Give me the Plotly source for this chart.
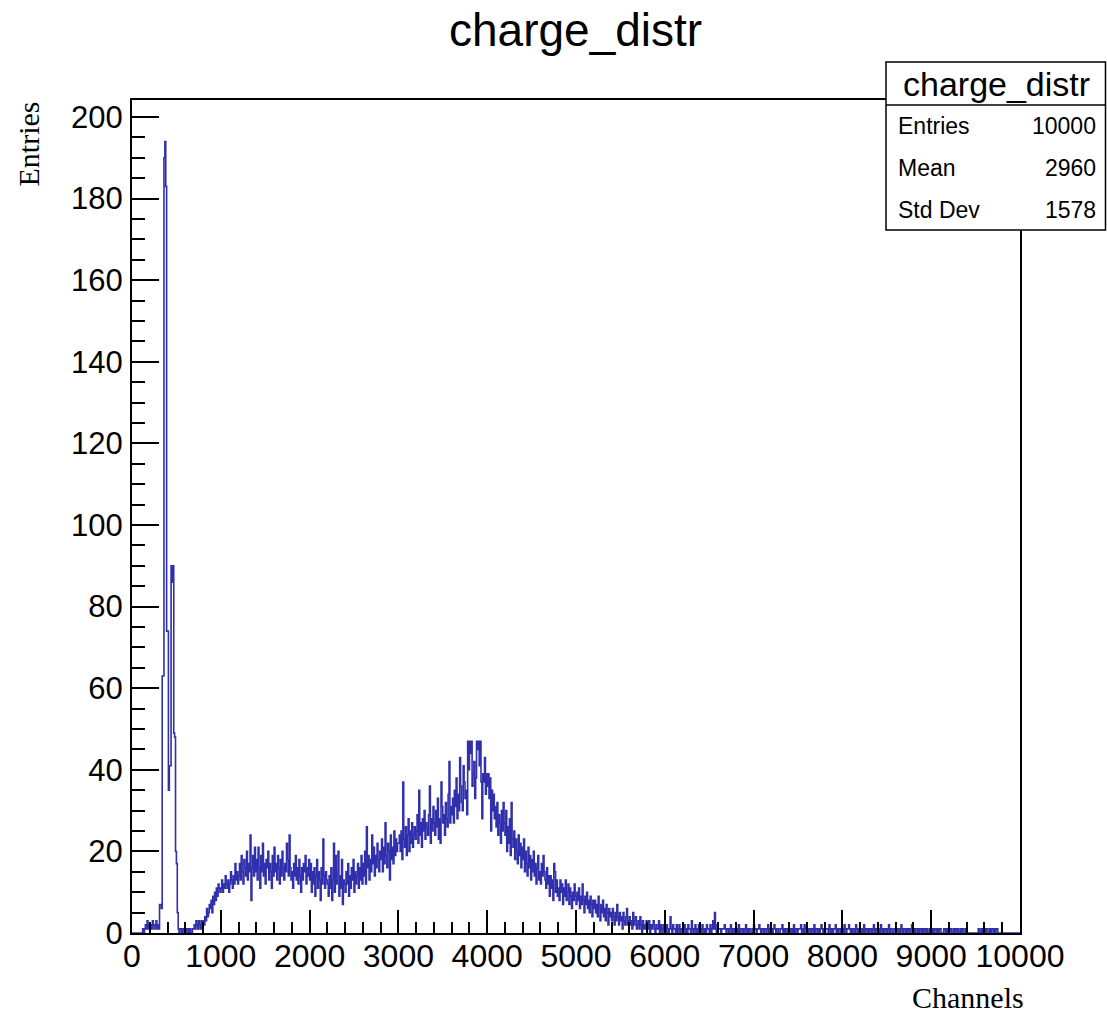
import numpy as np
import plotly.graph_objects as go

# Histogram definition: 1000 bins of 10 channels over [0, 10000)
bin_lo = 0
bin_width = 10

# Bin contents, 20 bins (200 channels) per row
counts = [
    0, 0, 0, 0, 0, 0, 0, 0, 0, 0, 0, 0, 1, 0, 1, 2, 1, 3, 1, 2,
    1, 2, 1, 3, 2, 1, 2, 3, 1, 2, 1, 7, 7, 6, 63, 63, 190, 194, 183, 74,
    74, 35, 41, 41, 90, 86, 90, 49, 48, 20, 17, 5, 1, 0, 1, 1, 0, 1, 1, 0,
    1, 0, 1, 1, 0, 1, 0, 0, 1, 1, 2, 1, 3, 2, 1, 3, 2, 1, 3, 2,
    3, 2, 4, 3, 6, 4, 5, 7, 6, 8, 5, 9, 7, 10, 8, 11, 9, 12, 11, 10,
    11, 13, 10, 12, 11, 14, 12, 11, 13, 10, 12, 15, 13, 11, 14, 12, 17, 13, 15, 12,
    14, 17, 13, 19, 15, 12, 18, 16, 14, 20, 13, 17, 15, 24, 8, 16, 19, 14, 21, 15,
    18, 13, 21, 16, 11, 19, 15, 22, 14, 17, 12, 18, 16, 20, 13, 17, 15, 11, 19, 14,
    21, 15, 17, 13, 19, 16, 12, 18, 14, 20, 16, 13, 17, 15, 22, 18, 14, 24, 16, 13,
    15, 11, 17, 14, 19, 13, 16, 12, 18, 14, 10, 16, 13, 17, 15, 19, 12, 16, 14, 18,
    13, 17, 10, 15, 12, 16, 9, 14, 18, 11, 15, 13, 8, 16, 12, 23, 14, 11, 15, 13,
    12, 9, 14, 11, 16, 8, 13, 22, 10, 19, 12, 15, 20, 9, 14, 11, 18, 7, 13, 12,
    10, 15, 12, 17, 9, 14, 11, 16, 13, 18, 10, 15, 12, 14, 17, 11, 16, 13, 19, 12,
    17, 14, 20, 12, 26, 16, 19, 13, 18, 15, 24, 17, 21, 14, 19, 16, 22, 18, 15, 20,
    18, 23, 15, 21, 17, 27, 19, 16, 22, 20, 13, 24, 18, 21, 17, 25, 19, 23, 20, 22,
    22, 24, 20, 25, 18, 37, 23, 21, 26, 19, 24, 28, 20, 25, 22, 27, 21, 24, 26, 23,
    25, 29, 22, 35, 24, 27, 21, 28, 25, 30, 23, 27, 26, 24, 29, 36, 22, 28, 25, 31,
    27, 24, 30, 26, 33, 23, 28, 22, 37, 31, 27, 29, 24, 32, 28, 26, 34, 42, 27, 31,
    29, 33, 27, 35, 31, 38, 28, 34, 30, 43, 36, 32, 30, 41, 37, 33, 35, 29, 47, 40,
    47, 44, 47, 36, 39, 42, 33, 38, 47, 45, 47, 41, 47, 37, 28, 39, 37, 43, 34, 39,
    36, 39, 33, 38, 25, 35, 30, 34, 28, 31, 26, 32, 24, 29, 27, 22, 30, 25, 32, 27,
    24, 30, 20, 26, 22, 28, 19, 32, 23, 21, 25, 18, 23, 20, 17, 24, 19, 22, 16, 21,
    18, 23, 15, 20, 17, 14, 21, 16, 19, 13, 18, 15, 20, 14, 17, 12, 16, 19, 13, 15,
    12, 17, 14, 19, 15, 13, 11, 16, 12, 14, 9, 14, 11, 13, 8, 17, 15, 10, 13, 9,
    11, 8, 13, 10, 12, 7, 11, 9, 13, 8, 10, 12, 7, 11, 9, 6, 10, 8, 12, 9,
    7, 10, 8, 11, 6, 9, 7, 12, 8, 5, 9, 7, 10, 6, 8, 5, 9, 7, 4, 8,
    6, 8, 5, 7, 4, 9, 6, 3, 7, 5, 8, 4, 6, 3, 7, 5, 2, 6, 4, 5,
    3, 6, 4, 2, 5, 3, 7, 4, 2, 5, 3, 4, 1, 5, 3, 2, 4, 6, 2, 3,
    4, 2, 3, 1, 5, 2, 3, 4, 1, 2, 3, 1, 4, 2, 0, 3, 1, 2, 1, 3,
    2, 1, 3, 0, 2, 1, 2, 3, 1, 0, 2, 1, 1, 3, 0, 2, 1, 0, 2, 1,
    1, 0, 2, 1, 0, 1, 4, 1, 0, 2, 1, 1, 0, 2, 0, 1, 2, 0, 1, 1,
    0, 1, 2, 0, 1, 0, 2, 1, 1, 0, 3, 1, 0, 1, 2, 0, 1, 0, 2, 1,
    1, 0, 2, 1, 0, 1, 0, 2, 1, 1, 0, 2, 0, 1, 3, 1, 5, 1, 0, 2,
    1, 1, 1, 0, 1, 1, 1, 2, 1, 0, 1, 1, 0, 1, 2, 0, 1, 1, 0, 1,
    0, 1, 0, 2, 0, 1, 1, 0, 1, 0, 1, 2, 0, 1, 0, 1, 1, 0, 0, 1,
    2, 1, 1, 0, 1, 1, 2, 1, 0, 1, 1, 0, 1, 1, 0, 1, 2, 0, 1, 0,
    1, 0, 1, 2, 1, 0, 1, 1, 0, 0, 1, 1, 2, 0, 1, 0, 1, 1, 0, 1,
    1, 1, 0, 1, 0, 2, 0, 1, 1, 0, 1, 1, 1, 2, 0, 1, 0, 2, 1, 0,
    1, 0, 1, 1, 0, 1, 1, 0, 2, 0, 1, 1, 0, 1, 0, 1, 2, 1, 0, 1,
    0, 1, 1, 1, 0, 2, 1, 0, 1, 0, 1, 1, 2, 0, 1, 0, 1, 1, 0, 1,
    1, 0, 2, 1, 0, 1, 1, 2, 1, 0, 1, 0, 1, 1, 0, 2, 1, 0, 1, 1,
    0, 1, 1, 0, 2, 0, 1, 1, 0, 1, 0, 1, 1, 0, 1, 2, 0, 1, 1, 0,
    1, 1, 0, 2, 1, 0, 1, 0, 1, 1, 0, 1, 2, 0, 1, 1, 0, 0, 1, 1,
    0, 1, 1, 0, 1, 0, 2, 1, 0, 1, 1, 0, 1, 0, 1, 1, 0, 1, 2, 0,
    1, 0, 1, 1, 0, 1, 0, 1, 1, 0, 1, 0, 1, 1, 0, 1, 0, 0, 1, 1,
    1, 0, 1, 0, 1, 1, 0, 1, 0, 1, 1, 0, 0, 0, 1, 1, 0, 1, 0, 1,
    0, 1, 1, 0, 0, 1, 0, 1, 1, 0, 1, 0, 0, 1, 0, 1, 1, 0, 0, 1,
    0, 0, 0, 0, 0, 0, 0, 0, 0, 0, 0, 0, 0, 1, 0, 0, 1, 0, 1, 0,
    1, 0, 1, 1, 0, 0, 1, 0, 1, 1, 0, 1, 0, 1, 1, 0, 0, 0, 0, 0,
    0, 0, 0, 0, 0, 0, 0, 0, 0, 0, 0, 0, 0, 0, 0, 0, 0, 0, 0, 0,
]

hist_name = "charge_distr"
x_title = "Channels"
y_title = "Entries"
stat_labels = ["Entries", "Mean", "Std Dev"]
stat_values = ["10000", "2960", "1578"]

n_bins = len(counts)
edges = bin_lo + bin_width * np.arange(n_bins + 1)
step_y = counts + [counts[-1]]

W, H = 1107, 1012
L, R, T, B = 132, 1020, 100, 933


def fx(px):
    return (px - L) / (R - L)


def fy(py):
    return (B - py) / (B - T)


fig = go.Figure()
fig.add_trace(go.Scatter(
    x=edges, y=step_y, mode="lines",
    line=dict(shape="hv", color="#3030ac", width=1.6),
    hoverinfo="skip", showlegend=False,
))

axis_font = dict(family="Liberation Sans, Arial, sans-serif", size=31, color="black")
fig.update_xaxes(
    range=[0, 10000], tick0=0, dtick=1000, tickformat="d",
    ticks="inside", ticklen=23, tickwidth=2, tickcolor="black",
    minor=dict(dtick=200, ticks="inside", ticklen=11, tickwidth=1.5, tickcolor="black"),
    showline=True, linewidth=2, linecolor="black", mirror=True,
    showgrid=False, zeroline=False, tickfont=dict(axis_font, size=32),
    ticklabelstandoff=-6,
)
fig.update_yaxes(
    range=[0, (B - T) / 4.08], tick0=0, dtick=20,
    ticks="inside", ticklen=27, tickwidth=2, tickcolor="black",
    minor=dict(dtick=5, ticks="inside", ticklen=13, tickwidth=1.5, tickcolor="black"),
    showline=True, linewidth=2, linecolor="black", mirror=True,
    showgrid=False, zeroline=False, tickfont=axis_font,
    ticklabelstandoff=1,
)

serif = dict(family="Liberation Serif, Times New Roman, serif", size=30, color="black")
sans = "Liberation Sans, Arial, sans-serif"

annotations = [
    dict(text=hist_name, x=fx(575), y=fy(30), xanchor="center", yanchor="middle",
         font=dict(family=sans, size=46, color="black")),
    dict(text=x_title, x=fx(1026), y=fy(997), xanchor="right", yanchor="middle", font=serif),
    dict(text=y_title, x=fx(28), y=fy(100), xanchor="center", yanchor="top",
         textangle=-90, font=serif),
    dict(text=hist_name, x=fx(996), y=fy(84), xanchor="center", yanchor="middle",
         font=dict(family=sans, size=34, color="black")),
]
row_y = [126, 168, 210]
for lab, val, py in zip(stat_labels, stat_values, row_y):
    annotations.append(dict(text=lab, x=fx(896), y=fy(py), xanchor="left", yanchor="middle",
                            font=dict(family=sans, size=23, color="black")))
    annotations.append(dict(text=val, x=fx(1098), y=fy(py), xanchor="right", yanchor="middle",
                            font=dict(family=sans, size=23, color="black")))
for a in annotations:
    a.update(xref="paper", yref="paper", showarrow=False)

shapes = [
    dict(type="rect", xref="paper", yref="paper",
         x0=fx(886), x1=fx(1105.5), y0=fy(230), y1=fy(62),
         line=dict(color="black", width=1.5), fillcolor="white", layer="above"),
    dict(type="line", xref="paper", yref="paper",
         x0=fx(886), x1=fx(1105.5), y0=fy(105), y1=fy(105),
         line=dict(color="black", width=1.5), layer="above"),
]

fig.update_layout(
    width=W, height=H, autosize=False,
    margin=dict(l=L, r=W - R, t=T, b=H - B, pad=0),
    paper_bgcolor="white", plot_bgcolor="white",
    annotations=annotations, shapes=shapes,
    showlegend=False,
)

fig.write_html("out.html")
